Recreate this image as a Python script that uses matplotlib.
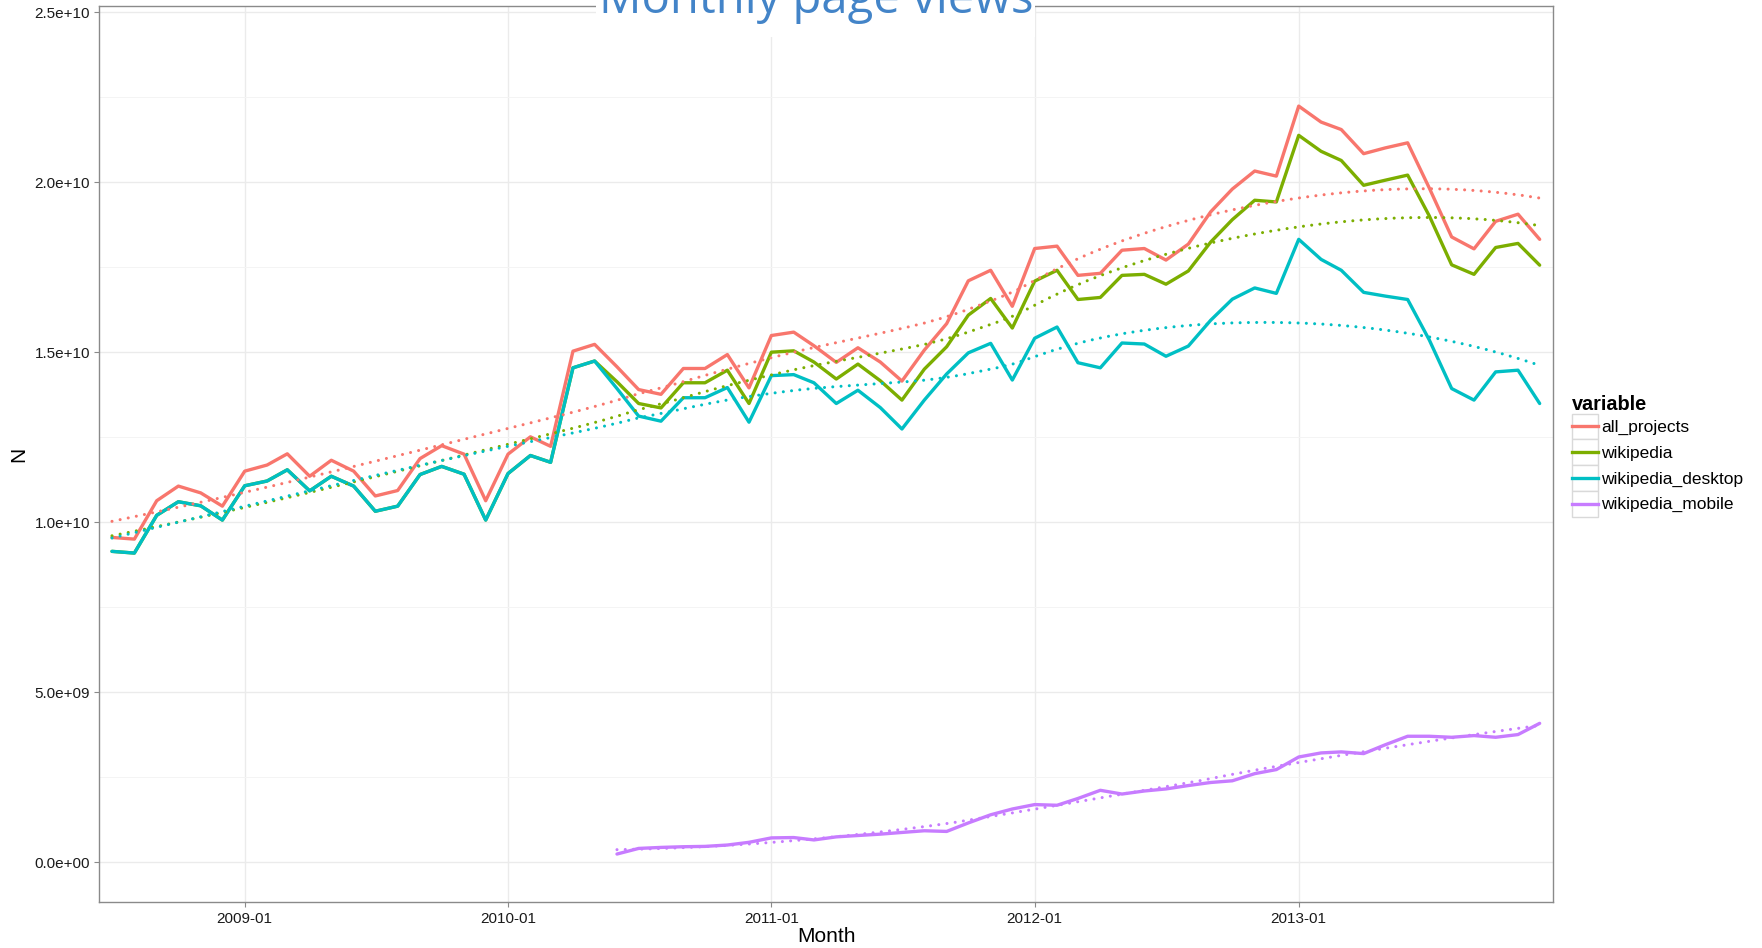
import numpy as np
import pandas as pd
import matplotlib
matplotlib.use("Agg")
import matplotlib.pyplot as plt
import matplotlib.dates as mdates
from matplotlib.patches import Rectangle
from matplotlib.legend_handler import HandlerLine2D
from matplotlib.lines import Line2D

plt.rcParams['font.family'] = ['Liberation Sans', 'DejaVu Sans']

# ---------------- data (billions of page views per month) ----------------
months = pd.date_range('2008-07-01', '2013-12-01', freq='MS')

all_projects = [9.55, 9.50, 10.63, 11.06, 10.86, 10.47, 11.50, 11.68, 12.01, 11.35,
                11.82, 11.50, 10.77, 10.93, 11.87, 12.25, 12.00, 10.63, 12.00, 12.51,
                12.23, 15.03, 15.23, 14.57, 13.90, 13.76, 14.52, 14.52, 14.93, 13.95,
                15.49, 15.59, 15.19, 14.70, 15.13, 14.71, 14.15, 15.06, 15.84, 17.10,
                17.41, 16.35, 18.05, 18.12, 17.26, 17.32, 18.00, 18.05, 17.71, 18.18,
                19.13, 19.80, 20.33, 20.18, 22.24, 21.77, 21.55, 20.84, 21.01, 21.16,
                19.83, 18.39, 18.04, 18.85, 19.06, 18.32]

wikipedia = [9.14, 9.09, 10.20, 10.60, 10.48, 10.06, 11.07, 11.21, 11.54, 10.92,
             11.35, 11.06, 10.32, 10.47, 11.40, 11.64, 11.41, 10.06, 11.43, 11.96,
             11.76, 14.54, 14.74, 14.13, 13.49, 13.36, 14.10, 14.10, 14.47, 13.49,
             15.00, 15.04, 14.71, 14.21, 14.65, 14.16, 13.59, 14.50, 15.16, 16.09,
             16.58, 15.71, 17.09, 17.41, 16.55, 16.61, 17.26, 17.29, 17.00, 17.39,
             18.24, 18.90, 19.47, 19.42, 21.38, 20.91, 20.64, 19.91, 20.06, 20.21,
             19.01, 17.57, 17.29, 18.08, 18.20, 17.56]

wikipedia_desktop = [9.14, 9.09, 10.20, 10.60, 10.48, 10.06, 11.07, 11.21, 11.54, 10.92,
                     11.35, 11.06, 10.32, 10.47, 11.40, 11.64, 11.41, 10.06, 11.43, 11.96,
                     11.76, 14.54, 14.74, 13.93, 13.12, 12.97, 13.66, 13.66, 13.96, 12.94,
                     14.31, 14.34, 14.10, 13.49, 13.88, 13.37, 12.74, 13.59, 14.36, 14.98,
                     15.26, 14.18, 15.41, 15.74, 14.69, 14.54, 15.27, 15.24, 14.88, 15.18,
                     15.94, 16.56, 16.89, 16.73, 18.32, 17.73, 17.41, 16.76, 16.65, 16.55,
                     15.36, 13.93, 13.59, 14.42, 14.47, 13.49]

mobile_start = '2010-06-01'
wikipedia_mobile = [0.235, 0.40, 0.43, 0.45, 0.46, 0.50, 0.58, 0.71, 0.72, 0.65,
                    0.74, 0.78, 0.82, 0.87, 0.92, 0.90, 1.15, 1.39, 1.56, 1.69,
                    1.67, 1.87, 2.11, 2.00, 2.09, 2.15, 2.25, 2.34, 2.39, 2.60,
                    2.72, 3.09, 3.21, 3.24, 3.19, 3.45, 3.70, 3.70, 3.67, 3.72,
                    3.67, 3.75, 4.08]

series_names = ['all_projects', 'wikipedia', 'wikipedia_desktop', 'wikipedia_mobile']
series_colors = ['#F8766D', '#7CAE00', '#00BFC4', '#C77CFF']
x_tick_labels = ['2009-01', '2010-01', '2011-01', '2012-01', '2013-01']
y_ticks = [0, 5e9, 1e10, 1.5e10, 2e10, 2.5e10]

mobile_months = pd.date_range(mobile_start, '2013-12-01', freq='MS')
series_x = [months, months, months, mobile_months]
series_y = [all_projects, wikipedia, wikipedia_desktop, wikipedia_mobile]


def loess(x, y, xs, span=0.75):
    """Local quadratic regression with tricube weights (like R's loess)."""
    x = np.asarray(x, float)
    y = np.asarray(y, float)
    n = len(x)
    q = int(np.floor(n * span))
    out = []
    for x0 in xs:
        d = np.abs(x - x0)
        h = np.sort(d)[q - 1] * 1.0000001
        u = np.clip(d / h, 0, 1)
        w = (1 - u ** 3) ** 3
        X = np.vstack([np.ones(n), x - x0, (x - x0) ** 2]).T
        sw = np.sqrt(w)
        beta, *_ = np.linalg.lstsq(X * sw[:, None], y * sw, rcond=None)
        out.append(beta[0])
    return np.array(out)


W, H = 1762, 948
fig = plt.figure(figsize=(W / 100, H / 100), dpi=100)
left, right, top, bottom = 99.3, 1553.3, 6.0, 902.3
ax = fig.add_axes([left / W, 1 - bottom / H, (right - left) / W, (bottom - top) / H])

solid_lw = 2.4
for xs_, ys_, name, col in zip(series_x, series_y, series_names, series_colors):
    xnum = mdates.date2num(xs_)
    yv = np.asarray(ys_) * 1e9
    ax.plot(xnum, yv, color=col, lw=solid_lw, solid_joinstyle='round',
            solid_capstyle='round', label=name, zorder=3)

for xs_, ys_, name, col in zip(series_x, series_y, series_names, series_colors):
    xnum = mdates.date2num(xs_)
    yv = np.asarray(ys_) * 1e9
    grid = np.linspace(xnum.min(), xnum.max(), 80)
    fit = loess(xnum, yv, grid)
    ax.plot(grid, fit, color=col, lw=2.2, linestyle=(0, (0.01, 2.7)),
            dash_capstyle='round', zorder=4)

# axes limits
d09 = mdates.date2num(pd.Timestamp('2009-01-01'))
d13 = mdates.date2num(pd.Timestamp('2013-01-01'))
ax.set_xlim(d09 - 201.6, d13 + 352.9)
ax.set_ylim(-1.185e9, 25.185e9)

xt = mdates.date2num(pd.to_datetime([s + '-01' for s in x_tick_labels]))
ax.set_xticks(xt)
ax.set_xticklabels(x_tick_labels)
ax.set_yticks(y_ticks)
ax.set_yticklabels(['%.1e' % v for v in y_ticks])
ax.set_yticks([2.5e9, 7.5e9, 1.25e10, 1.75e10, 2.25e10], minor=True)

ax.grid(True, which='major', color='#EBEBEB', lw=1.0, zorder=0)
ax.grid(True, which='minor', axis='y', color='#F4F4F4', lw=0.7, zorder=0)
ax.set_axisbelow(True)
ax.tick_params(axis='both', which='major', length=3.4, width=0.8, color='#8A8A8A',
               labelsize=11, labelcolor='#1A1A1A', pad=3.3)
ax.tick_params(axis='y', which='minor', length=0)
for s in ax.spines.values():
    s.set_color('#8A8A8A')
    s.set_linewidth(1.0)

ax.set_xlabel('Month', fontsize=15, color='#000000')
ax.xaxis.label.set_va('center')
ax.xaxis.set_label_coords(0.5, (bottom - 936.5) / (bottom - top))
ax.set_ylabel('N', fontsize=15, color='#000000')
ax.yaxis.label.set_va('center')
ax.yaxis.set_label_coords(-(left - 19) / (right - left), 0.5)


# legend with boxed keys (ggplot style)
class BoxedLine(HandlerLine2D):
    def create_artists(self, legend, orig_handle, xdescent, ydescent, width, height,
                       fontsize, trans):
        arts = super().create_artists(legend, orig_handle, xdescent, ydescent, width,
                                      height, fontsize, trans)
        yc = height / 2.0 - ydescent
        for a in arts:
            if isinstance(a, Line2D):
                a.set_ydata(np.full_like(np.asarray(a.get_xdata(), float), yc))
        rect = Rectangle((-xdescent, -ydescent), width, height,
                         facecolor='white', edgecolor='#D9D9D9', lw=1.0,
                         transform=trans)
        return [rect] + arts


handles = [Line2D([0], [0], color=c, lw=solid_lw) for c in series_colors]
leg_fs = 12.5
leg = ax.legend(handles, series_names, loc='upper left',
                bbox_to_anchor=(1572.3 / W, 1 - 394.5 / H),
                bbox_transform=fig.transFigure, frameon=False, fontsize=leg_fs,
                title='variable', alignment='left', borderpad=0, labelspacing=0,
                handlelength=1.5, handleheight=1.909, handletextpad=0.17,
                borderaxespad=0,
                handler_map={Line2D: BoxedLine(marker_pad=0.15)})
leg.get_title().set_fontsize(14.3)
leg.get_title().set_fontweight('bold')

# overlaid slide title (partially cut off at top)
fig.patches.append(Rectangle((596 / W, 1 - 37 / H), (1035 - 596) / W, 37 / H + 0.01,
                             transform=fig.transFigure, facecolor='white',
                             edgecolor='none', zorder=5))
fig.text(816 / W, 1 - 12.7 / H, 'Monthly page views', ha='center', va='baseline',
         fontsize=34, color='#4384C8', family=['Open Sans', 'DejaVu Sans'],
         zorder=6)

fig.savefig('out.png', dpi=100, facecolor='white')
